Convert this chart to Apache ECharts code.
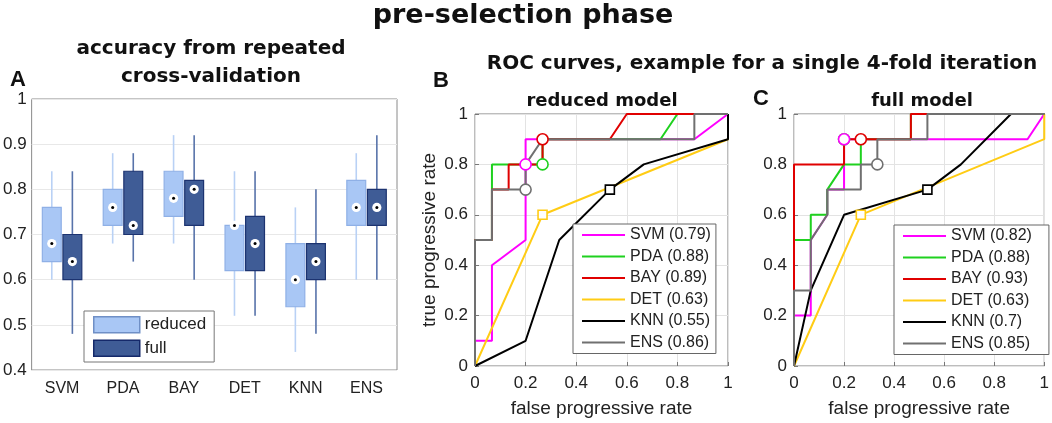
<!DOCTYPE html>
<html>
<head>
<meta charset="utf-8" />
<title>pre-selection phase</title>
<style>
  html, body { margin: 0; padding: 0; background: #fff; }
  #main { width: 1052px; height: 423px; }
</style>
</head>
<body>
<div id="main"></div>
<script src="https://cdn.jsdelivr.net/npm/echarts@6/dist/echarts.min.js"></script>
<script type="text/javascript">
// ---- panel A: accuracy per classifier, [min, q1, median, q3, max]
var categories = ['SVM', 'PDA', 'BAY', 'DET', 'KNN', 'ENS'];
var reducedAcc = [
    [0.60, 0.64, 0.68, 0.76, 0.84],
    [0.68, 0.72, 0.76, 0.80, 0.88],
    [0.68, 0.74, 0.78, 0.84, 0.92],
    [0.52, 0.62, 0.72, 0.72, 0.84],
    [0.44, 0.54, 0.60, 0.68, 0.76],
    [0.60, 0.72, 0.76, 0.82, 0.88]
];
var fullAcc = [
    [0.48, 0.60, 0.64, 0.70, 0.84],
    [0.64, 0.70, 0.72, 0.84, 0.88],
    [0.60, 0.72, 0.80, 0.82, 0.92],
    [0.52, 0.62, 0.68, 0.74, 0.84],
    [0.48, 0.60, 0.64, 0.68, 0.80],
    [0.60, 0.72, 0.76, 0.80, 0.92]
];
var accTicks = [0.4, 0.5, 0.6, 0.7, 0.8, 0.9, 1];

// ---- panels B / C: ROC curves [fpr, tpr]
var models = ['SVM', 'PDA', 'BAY', 'DET', 'KNN', 'ENS'];
var aucReduced = ['0.79', '0.88', '0.89', '0.63', '0.55', '0.86'];
var aucFull = ['0.82', '0.88', '0.93', '0.63', '0.7', '0.85'];

var svmReduced = [[0, 0], [0, 0.1], [0.067, 0.1], [0.067, 0.4], [0.2, 0.5], [0.2, 0.9], [0.867, 0.9], [1, 1]];
var pdaReduced = [[0, 0], [0, 0.5], [0.067, 0.5], [0.067, 0.8], [0.267, 0.8], [0.267, 0.9], [0.733, 0.9], [0.8, 1], [1, 1]];
var bayReduced = [[0, 0], [0, 0.5], [0.067, 0.5], [0.067, 0.7], [0.133, 0.7], [0.133, 0.8], [0.267, 0.8], [0.267, 0.9], [0.533, 0.9], [0.6, 1], [1, 1]];
var detReduced = [[0, 0], [0.267, 0.6], [1, 0.9], [1, 1]];
var knnReduced = [[0, 0], [0.2, 0.1], [0.333, 0.5], [0.533, 0.7], [0.667, 0.8], [1, 0.9], [1, 1]];
var ensReduced = [[0, 0], [0, 0.5], [0.067, 0.5], [0.067, 0.7], [0.2, 0.7], [0.2, 0.8], [0.267, 0.9], [0.867, 0.9], [0.867, 1], [1, 1]];

var svmFull = [[0, 0], [0, 0.2], [0.067, 0.2], [0.067, 0.5], [0.133, 0.6], [0.133, 0.7], [0.2, 0.7], [0.2, 0.9], [0.933, 0.9], [1, 1]];
var pdaFull = [[0, 0], [0, 0.5], [0.067, 0.5], [0.067, 0.6], [0.133, 0.6], [0.133, 0.7], [0.2, 0.8], [0.267, 0.8], [0.267, 0.9], [0.467, 0.9], [0.467, 1], [1, 1]];
var bayFull = [[0, 0], [0, 0.8], [0.2, 0.8], [0.2, 0.9], [0.467, 0.9], [0.467, 1], [1, 1]];
var detFull = [[0, 0], [0.267, 0.6], [1, 0.9], [1, 1]];
var knnFull = [[0, 0], [0.067, 0.3], [0.2, 0.6], [0.533, 0.7], [0.667, 0.8], [0.867, 1], [1, 1]];
var ensFull = [[0, 0], [0, 0.3], [0.067, 0.3], [0.067, 0.5], [0.133, 0.6], [0.133, 0.7], [0.267, 0.7], [0.267, 0.8], [0.333, 0.8], [0.333, 0.9], [0.533, 0.9], [0.533, 1], [1, 1]];

// operating points marked on each curve
var opReduced = [[0.2, 0.8], [0.267, 0.8], [0.267, 0.9], [0.267, 0.6], [0.533, 0.7], [0.2, 0.7]];
var opFull = [[0.2, 0.9], [0.2, 0.9], [0.267, 0.9], [0.267, 0.6], [0.533, 0.7], [0.333, 0.8]];
var rocTicks = [0, 0.2, 0.4, 0.6, 0.8, 1];

// ---- styles
var rocColors = ['#ff00ff', '#1fd11f', '#e00000', '#ffcc14', '#000000', '#707070'];
var opShapes = ['circle', 'circle', 'circle', 'rect', 'rect', 'circle'];
var boxStyle = {
    reduced: { fill: '#a9c7f5', stroke: '#8fb0e6', whisker: '#b9d1f5' },
    full: { fill: '#3f5c96', stroke: '#1c3370', whisker: '#5873aa' }
};
var TXT = '#222';
var SANS = '"Liberation Sans", Arial, sans-serif';
var BOLD = '"DejaVu Sans", Verdana, sans-serif';

function boxRender(dir, st) {
    return function (params, api) {
        var idx = api.value(0);
        var band = api.size([1, 0])[0];
        var xc = api.coord([idx, 0])[0] + dir * band * 0.169;
        var w = band * 0.31;
        var lo = api.coord([idx, api.value(1)])[1];
        var q1 = api.coord([idx, api.value(2)])[1];
        var md = api.coord([idx, api.value(3)])[1];
        var q3 = api.coord([idx, api.value(4)])[1];
        var hi = api.coord([idx, api.value(5)])[1];
        return {
            type: 'group',
            children: [
                { type: 'line', shape: { x1: xc, y1: lo, x2: xc, y2: hi }, style: { stroke: st.whisker, lineWidth: 1.6 } },
                { type: 'rect', shape: { x: xc - w / 2, y: q3, width: w, height: q1 - q3 }, style: { fill: st.fill, stroke: st.stroke, lineWidth: 1.2 } },
                { type: 'circle', shape: { cx: xc, cy: md, r: 4.6 }, style: { fill: '#fff' } },
                { type: 'circle', shape: { cx: xc, cy: md, r: 1.5 }, style: { fill: '#000' } }
            ]
        };
    };
}

function boxData(stats) {
    return stats.map(function (s, i) { return [i].concat(s); });
}

var rocGrids = [
    { curves: [svmReduced, pdaReduced, bayReduced, detReduced, knnReduced, ensReduced], auc: aucReduced, ops: opReduced },
    { curves: [svmFull, pdaFull, bayFull, detFull, knnFull, ensFull], auc: aucFull, ops: opFull }
];

var series = [
    {
        name: 'reduced', type: 'custom', xAxisIndex: 0, yAxisIndex: 0,
        itemStyle: { color: boxStyle.reduced.fill },
        renderItem: boxRender(-1, boxStyle.reduced),
        encode: { x: 0, y: [1, 2, 3, 4, 5] },
        data: boxData(reducedAcc)
    },
    {
        name: 'full', type: 'custom', xAxisIndex: 0, yAxisIndex: 0,
        itemStyle: { color: boxStyle.full.fill },
        renderItem: boxRender(1, boxStyle.full),
        encode: { x: 0, y: [1, 2, 3, 4, 5] },
        data: boxData(fullAcc)
    }
];
var legendNames = [[], []];

rocGrids.forEach(function (g, gi) {
    models.forEach(function (m, i) {
        var name = m + ' (' + g.auc[i] + ')';
        legendNames[gi].push(name);
        series.push({
            name: name, type: 'line', xAxisIndex: gi + 1, yAxisIndex: gi + 1,
            data: g.curves[i], symbol: 'none', clip: false,
            lineStyle: { color: rocColors[i], width: 2 },
            itemStyle: { color: rocColors[i] }
        });
    });
    models.forEach(function (m, i) {
        series.push({
            name: 'op ' + m + ' ' + gi, type: 'scatter', xAxisIndex: gi + 1, yAxisIndex: gi + 1,
            data: [g.ops[i]], symbol: opShapes[i], symbolSize: opShapes[i] === 'rect' ? 9 : 11,
            clip: false, z: (gi === 1 && i === 1) ? 3 : 4,
            itemStyle: { color: '#fff', borderColor: rocColors[i], borderWidth: 1.6, opacity: 1 }
        });
    });
});

function rocX(idx, withName) {
    return {
        type: 'value', gridIndex: idx, min: 0, max: 1, interval: 0.2,
        name: withName ? 'false progressive rate' : '', nameLocation: 'middle', nameGap: 33,
        nameTextStyle: { fontFamily: SANS, fontSize: 19, color: TXT },
        axisLine: { show: false },
        axisTick: { show: true, inside: true, length: 4, lineStyle: { color: '#777' } },
        axisLabel: { fontFamily: SANS, fontSize: 17, color: TXT, margin: 9 },
        splitLine: { show: true, lineStyle: { color: '#e3e3e3', width: 1 } }
    };
}
function rocY(idx, withName) {
    return {
        type: 'value', gridIndex: idx, min: 0, max: 1, interval: 0.2,
        name: withName ? 'true progressive rate' : '', nameLocation: 'middle', nameGap: 36,
        nameTextStyle: { fontFamily: SANS, fontSize: 19, color: TXT },
        axisLine: { show: false },
        axisTick: { show: true, inside: true, length: 4, lineStyle: { color: '#777' } },
        axisLabel: { fontFamily: SANS, fontSize: 17, color: TXT, margin: 7 },
        splitLine: { show: true, lineStyle: { color: '#e3e3e3', width: 1 } }
    };
}

function rocLegend(gi, left, top, padRight) {
    return {
        data: legendNames[gi], orient: 'vertical', left: left, top: top,
        icon: 'rect', itemWidth: 43, itemHeight: 2, itemGap: 5.5,
        padding: [3, padRight, 3, 9], selectedMode: false,
        backgroundColor: '#fff', borderColor: '#666', borderWidth: 1,
        textStyle: { fontFamily: SANS, fontSize: 16, color: TXT }
    };
}

function label(text, x, y, size, family) {
    return {
        type: 'text', x: x, y: y, silent: true,
        style: {
            text: text, fill: '#111', font: 'bold ' + size + 'px ' + family,
            textAlign: 'center', textVerticalAlign: 'middle', align: 'center', verticalAlign: 'middle'
        }
    };
}

var chart = echarts.init(document.getElementById('main'), null, { renderer: 'canvas' });
chart.setOption({
    backgroundColor: '#fff',
    animation: false,
    graphic: [
        label('pre-selection phase', 523, 16, 27, BOLD),
        label('accuracy from repeated', 211, 49, 20, BOLD),
        label('cross-validation', 211, 77, 20, BOLD),
        label('A', 18, 80, 22, SANS),
        label('ROC curves, example for a single 4-fold iteration', 762, 64, 20, BOLD),
        label('B', 441, 81, 22, SANS),
        label('reduced model', 602, 101, 18, BOLD),
        label('C', 761, 99, 22, SANS),
        label('full model', 922, 101, 18, BOLD)
    ],
    grid: [
        { left: 31, top: 99, width: 366, height: 271, show: true, borderColor: '#8a8a8a', borderWidth: 1, backgroundColor: 'transparent' },
        { left: 475, top: 114, width: 253, height: 253, show: true, borderColor: '#7a7a7a', borderWidth: 1, backgroundColor: 'transparent' },
        { left: 794, top: 114, width: 254, height: 253, show: true, borderColor: '#7a7a7a', borderWidth: 1, backgroundColor: 'transparent' }
    ],
    legend: [
        {
            data: [
                { name: 'reduced', itemStyle: { color: boxStyle.reduced.fill, borderColor: '#6f8fc6', borderWidth: 1.5 } },
                { name: 'full', itemStyle: { color: boxStyle.full.fill, borderColor: '#15296a', borderWidth: 1.5 } }
            ],
            orient: 'vertical', left: 84, top: 311, icon: 'rect',
            itemWidth: 46, itemHeight: 16, itemGap: 6, padding: [5, 8, 5, 9], selectedMode: false,
            backgroundColor: '#fff', borderColor: '#777', borderWidth: 1,
            textStyle: { fontFamily: SANS, fontSize: 17, color: TXT }
        },
        rocLegend(0, 573, 224, 5),
        rocLegend(1, 894, 225, 17)
    ],
    xAxis: [
        {
            type: 'category', gridIndex: 0, data: categories,
            axisLine: { show: false }, axisTick: { show: false },
            axisLabel: { fontFamily: SANS, fontSize: 16, color: TXT, margin: 11 },
            splitLine: { show: false }
        },
        rocX(1, true),
        rocX(2, true)
    ],
    yAxis: [
        {
            type: 'value', gridIndex: 0, min: accTicks[0], max: accTicks[accTicks.length - 1], interval: 0.1,
            axisLine: { show: false }, axisTick: { show: false },
            axisLabel: { fontFamily: SANS, fontSize: 17, color: TXT, margin: 5 },
            splitLine: { show: true, lineStyle: { color: '#e8e8e8', width: 1 } }
        },
        rocY(1, true),
        rocY(2, false)
    ],
    series: series
});
</script>
</body>
</html>
